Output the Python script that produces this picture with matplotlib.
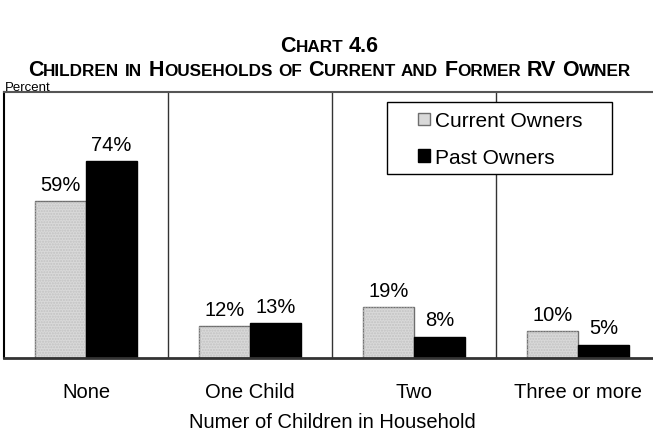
import matplotlib
matplotlib.use('Agg')
import matplotlib.pyplot as plt
from matplotlib.patches import Rectangle
import numpy as np

plt.rcParams['font.family'] = ['Liberation Sans', 'DejaVu Sans']

categories = ['None', 'One Child', 'Two', 'Three or more']
current_owners = [59, 12, 19, 10]
past_owners = [74, 13, 8, 5]

W, H = 653, 435
fig = plt.figure(figsize=(W / 100, H / 100), dpi=100)
# plot box: left edge 4px, top 93px, baseline 359px; right side runs past the figure
ax = fig.add_axes([4 / W, 1 - 359 / H, 656 / W, 266 / H])


def px_to_ax(px, py):
    return (px - 4) / 656, (359 - py) / 266


x = np.arange(len(categories))
bw = 0.31
ax.bar(x - bw / 2, current_owners, bw, color='#d9d9d9', edgecolor='#6e6e6e',
       linewidth=1, label='Current Owners', zorder=2)
ax.bar(x - bw / 2, current_owners, bw, color='none', edgecolor='#c2c2c2',
       linewidth=0, hatch='......', zorder=2)
ax.bar(x + bw / 2, past_owners, bw, color='black', edgecolor='black',
       linewidth=1, label='Past Owners', zorder=2)

for xi, v in zip(x - bw / 2, current_owners):
    ax.text(xi, v + 2.8, f'{v}%', ha='center', va='bottom', fontsize=14.5)
for xi, v in zip(x + bw / 2, past_owners):
    ax.text(xi, v + 2.8, f'{v}%', ha='center', va='bottom', fontsize=14.5)

for b in [0.5, 1.5, 2.5]:
    ax.axvline(b, color='#333333', linewidth=1, zorder=1)

ax.set_xlim(-0.5, 3.5)
ax.set_ylim(0, 100)
ax.set_yticks([])
ax.set_xticks(x)
ax.set_xticklabels(categories, fontsize=14.5)
ax.tick_params(axis='x', length=0, pad=17)
ax.set_xlabel('Numer of Children in Household', fontsize=14.5, labelpad=8)

ax.spines['right'].set_visible(False)
ax.spines['top'].set_color('#555555')
ax.spines['top'].set_linewidth(1.5)
ax.spines['left'].set_color('black')
ax.spines['left'].set_linewidth(1.5)
ax.spines['bottom'].set_color('#333333')
ax.spines['bottom'].set_linewidth(2)

# legend box drawn separately so the padding can be wider than it is tall
bx0, by0 = px_to_ax(387, 175)
bx1, by1 = px_to_ax(612, 103)
ax.add_patch(Rectangle((bx0, by0), bx1 - bx0, by1 - by0, transform=ax.transAxes,
                       facecolor='white', edgecolor='black', linewidth=1, zorder=4))
leg = ax.legend(loc='upper left', bbox_to_anchor=px_to_ax(414, 108),
                fontsize=15, frameon=False, handlelength=0.55,
                handleheight=0.55, handletextpad=0.25, borderpad=0.2,
                labelspacing=0.85, borderaxespad=0)
leg.set_zorder(5)

fig.text(5 / W, 1 - 91 / H, 'Percent', fontsize=9.5, va='baseline', ha='left')

# small-caps title built from pieces
title_font = ['Liberation Sans', 'DejaVu Sans']


def small_caps(text, y_px, big=15.5, small=12.3):
    renderer = fig.canvas.get_renderer()
    pieces = []
    for wi, word in enumerate(text.split(' ')):
        if wi > 0:
            pieces.append((' ', big))
        run = ''
        run_big = None
        for ch in word:
            is_big = ch.isupper() or not ch.isalpha()
            if run_big is None or is_big == run_big:
                run += ch
            else:
                pieces.append((run, big if run_big else small))
                run = ch
            run_big = is_big
        pieces.append((run, big if run_big else small))
    texts = []
    widths = []
    space = fig.text(0, 0, 'x x', fontsize=big, fontweight='bold', family=title_font)
    nospace = fig.text(0, 0, 'xx', fontsize=big, fontweight='bold', family=title_font)
    space_w = space.get_window_extent(renderer).width - nospace.get_window_extent(renderer).width
    space.remove()
    nospace.remove()
    for s, size in pieces:
        if s == ' ':
            texts.append(None)
            widths.append(space_w)
            continue
        t = fig.text(0, 1 - y_px / H, s.upper(), fontsize=size, fontweight='bold',
                     family=title_font, va='baseline', ha='left')
        texts.append(t)
        widths.append(t.get_window_extent(renderer).width)
    start = (W - sum(widths)) / 2 + 3
    for t, w in zip(texts, widths):
        if t is not None:
            t.set_x(start / W)
        start += w


small_caps('Chart 4.6', 52)
small_caps('Children in Households of Current and Former RV Owner', 76)

fig.savefig('out.png', dpi=100)
